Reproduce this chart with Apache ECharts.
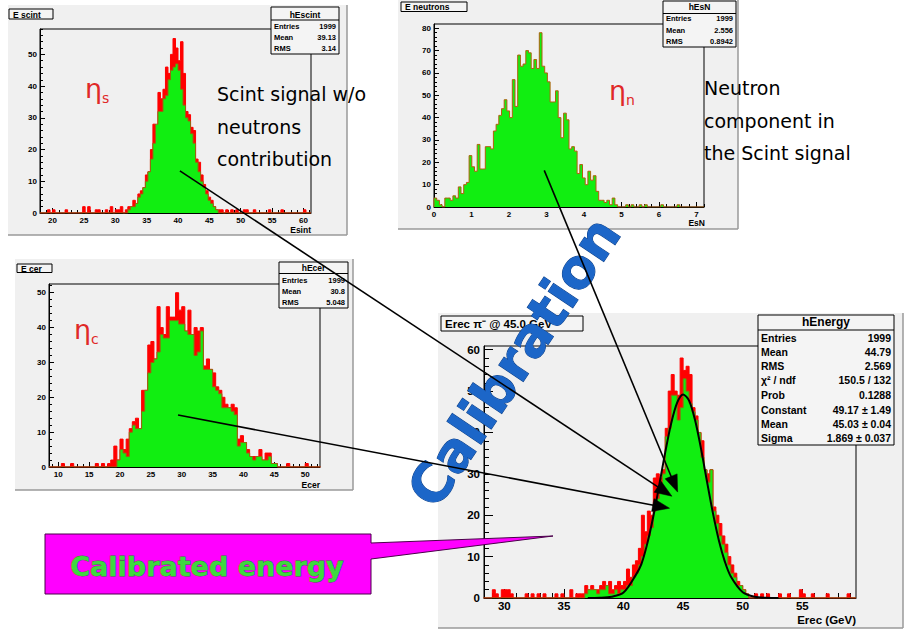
<!DOCTYPE html>
<html><head><meta charset="utf-8">
<script src="https://cdn.jsdelivr.net/npm/echarts@6/dist/echarts.min.js"></script>
<style>html,body{margin:0;padding:0;background:#fff;}#c{width:905px;height:633px;}</style>
</head><body><div id="c"></div>
<script>
// ---------------- data ----------------
const scintStart = 18, scintBinWidth = 0.4;
const scintRed = [0,0,0,1,0,1,0,0,0,0, 1,0,0,0,0,0,0,2,0,2, 0,0,1,1,0,0,1,0,2,0, 1,1,2,0,1,
  2,2,4,3,6,7,8,12,13,20, 28,27,38,36,39,46,44,50,55,52, 48,54,44,32,31,27,26,17,16,12, 9,7,5,4,2,1,
  1,1,0,1,0,1,0,1,0,0, 1,1,0,0,1,0,0,0,0,0, 1,0,0,0,0,1,0,0,0,0, 0,0,0,0,1,0,0];
const scintGreen = [0,0,0,0,0,0,0,0,0,0, 0,0,0,0,0,0,0,0,0,0, 0,0,0,0,0,0,0,0,0,0, 0,0,0,0,0,
  1,2,2,3,5,6,8,10,13,17, 22,28,32,32,36,37,42,45,46,47, 45,39,34,30,29,25,22,16,13,10, 8,6,4,3,2,1,
  0,0,0,0,0,0,0,0,0,0, 0,0,0,0,0,0,0,0,0,0, 0,0,0,0,0,0,0,0,0,0, 0,0,0,0,0,0,0];

const neutronStart = 0, neutronBinWidth = 0.072;
const neutronCounts = [4,3,1,0,4,4,3,5,4,9, 6,10,11,23,18,16,28,17,17,27, 27,26,34,37,41,44,48,43,40,57,
  45,68,63,64,70,69,62,66,62,78, 63,60,56,47,47,52,40,31,42,39, 26,27,25,15,19,13,10,16,12,14,
  7,3,3,2,3,1,4,1,0,0, 0,1,0,1,0,0,1,0,1,0, 0,0,0,0,1,0,0,0,0,0, 1,0,0,0,0,0,0,0,0,0];

const cerStart = 8.5, cerBinWidth = 0.5;
const cerRed = [0,0,0,0,1,0,0,1,0,0, 0,0,0,0,0,1,0,1,0,1, 2,6,
  2,8,5,8,11,13,14,11,22,22, 35,36,31,46,40,38,46,43,43,50, 45,46,39,45,38,40,39,40,29,31,
  28,27,23,22,20,18,17,18,17,8, 9,7,5,3,3,3,5,2,4,4, 1,1,
  0,0,0,1,0,0,0,0,0,1,0,0,0,0];
const cerGreen = [0,0,0,0,0,0,0,0,0,0, 0,0,0,0,0,0,0,0,0,0, 0,0,
  2,5,4,3,10,12,11,11,16,22, 27,30,31,33,38,37,37,42,42,42, 41,41,39,38,38,32,33,39,28,28,
  28,23,22,21,17,17,17,16,15,6, 7,7,4,3,2,3,3,2,2,3, 1,1,
  0,0,0,0,0,0,0,0,0,0,0,0,0,0];

const energyStart = 28.25, energyBinWidth = 0.25;
const energyRed = [0,0,0,2,1,0,2,2,2,1, 0,0,0,0,1,0,1,0,1,0, 1,0,0,0,1,0,1,0,0,2, 0,1,1,1,
  3,2,3,2,2,3,4,3,4,2, 3,4,3,4,7,5,8,9,12,20, 16,21,20,29,30,29,31,41,50,54,
  50,49,58,55,56,54,46,44,40,38, 31,30,31,22,20,18,15,13,10,8, 6,4,3,2,1,
  0,0,1,0,1,0,1,0,0,0,1, 0,0,1,0,0,0,2,1,0,0, 1,0,0,0,0,1,0,0,0,0, 0,0,1,0,0];
const energyGreen = [0,0,0,0,0,0,0,0,0,0, 0,0,0,0,0,0,0,0,0,0, 0,0,0,0,0,0,0,0,0,0, 0,0,0,0,
  1,2,2,2,1,2,2,3,1,1, 2,1,2,2,3,3,5,6,8,10, 13,15,17,21,24,27,30,39,41,49,
  49,43,46,53,50,47,45,43,40,34, 31,28,31,21,18,15,13,11,8,6, 5,3,3,2,1,
  0,0,0,0,0,0,0,0,0,0,0, 0,0,0,0,0,0,0,0,0,0, 0,0,0,0,0,0,0,0,0,0, 0,0,0,0,0];
const fitX = [37,38,39,40,41,41.5,42,42.5,43,43.5,44,44.5,45,45.5,46,46.5,47,47.5,48,48.5,49,50,51,52,53];
const fitY = [0,0.05,0.3,1.3,5.4,8.2,13.2,19.7,27.3,35.2,42.2,47.2,49.2,47.7,43,36.1,28.2,20.5,13.9,8.8,5.2,1.4,0.3,0.05,0];

const scintXTicks = [20,25,30,35,40,45,50,55,60], scintYTicks = [0,10,20,30,40,50];
const neutronXTicks = [0,1,2,3,4,5,6,7], neutronYTicks = [0,10,20,30,40,50,60,70,80];
const cerXTicks = [10,15,20,25,30,35,40,45,50], cerYTicks = [0,10,20,30,40,50];
const energyXTicks = [30,35,40,45,50,55], energyYTicks = [0,10,20,30,40,50,60];

const scintStats = [['Entries','1999'],['Mean','39.13'],['RMS','3.14']];
const neutronStats = [['Entries','1999'],['Mean','2.556'],['RMS','0.8942']];
const cerStats = [['Entries','1999'],['Mean','30.8'],['RMS','5.048']];
const energyStats = [['Entries','1999'],['Mean','44.79'],['RMS','2.569'],['\u03c7\u00b2 / ndf','150.5 / 132'],
  ['Prob','0.1288'],['Constant','49.17 \u00b1 1.49'],['Mean','45.03 \u00b1 0.04'],['Sigma','1.869 \u00b1 0.037']];

// ---------------- helpers ----------------
function stepData(start, w, counts){
  const d = [[start, 0]];
  counts.forEach((c, i) => d.push([+(start + i * w).toFixed(4), c]));
  const end = +(start + counts.length * w).toFixed(4);
  d.push([end, counts[counts.length - 1]]);
  d.push([end, 0]);
  return d;
}
function minorList(min, max, step, majors){
  const out = [];
  const k0 = Math.ceil(min / step - 1e-9), k1 = Math.floor(max / step + 1e-9);
  for (let k = k0; k <= k1; k++){
    const v = +(k * step).toFixed(4);
    if (!majors.some(m => Math.abs(m - v) < 1e-6)) out.push(v);
  }
  return out;
}
const FF = 'Liberation Sans';
const grid = [
  {left:40, top:29, width:271, height:184},
  {left:434, top:24, width:270, height:183},
  {left:49, top:284, width:271, height:183},
  {left:484, top:346, width:372, height:252}
].map(g => Object.assign(g, {show:true, borderColor:'#000', borderWidth:1, backgroundColor:'transparent', containLabel:false, outerBoundsMode:'none'}));

const xAxis = [], yAxis = [];
function axesFor(gi, c){
  const lbl = {fontFamily:FF, fontWeight:'bold', fontSize:c.fs, color:'#000'};
  xAxis.push({type:'value', gridIndex:gi, position:'bottom', min:c.xr[0], max:c.xr[1],
    axisLine:{show:true, onZero:false, lineStyle:{color:'#000', width:1}},
    axisTick:{show:true, inside:true, length:c.tl, customValues:c.xt, lineStyle:{color:'#000'}},
    axisLabel:Object.assign({show:true, customValues:c.xt, margin:c.xm}, lbl), splitLine:{show:false}});
  xAxis.push({type:'value', gridIndex:gi, position:'bottom', min:c.xr[0], max:c.xr[1],
    axisLine:{show:false, onZero:false}, axisTick:{show:true, inside:true, length:c.ml, customValues:minorList(c.xr[0], c.xr[1], c.xs, c.xt), lineStyle:{color:'#000'}},
    axisLabel:{show:false}, splitLine:{show:false}});
  yAxis.push({type:'value', gridIndex:gi, position:'left', min:c.yr[0], max:c.yr[1],
    axisLine:{show:true, onZero:false, lineStyle:{color:'#000', width:1}},
    axisTick:{show:true, inside:true, length:c.tl, customValues:c.yt, lineStyle:{color:'#000'}},
    axisLabel:Object.assign({show:true, customValues:c.yt, margin:c.ym}, lbl), splitLine:{show:false}});
  yAxis.push({type:'value', gridIndex:gi, position:'left', min:c.yr[0], max:c.yr[1],
    axisLine:{show:false, onZero:false}, axisTick:{show:true, inside:true, length:c.ml, customValues:minorList(c.yr[0], c.yr[1], c.ys, c.yt), lineStyle:{color:'#000'}},
    axisLabel:{show:false}, splitLine:{show:false}});
}
axesFor(0, {xr:[18,61.2], yr:[0,58], xt:scintXTicks, yt:scintYTicks, xs:1, ys:2, fs:8, tl:5, ml:3, xm:3, ym:3});
axesFor(1, {xr:[0,7.2], yr:[0,81.9], xt:neutronXTicks, yt:neutronYTicks, xs:0.2, ys:2, fs:8, tl:5, ml:3, xm:3, ym:3});
axesFor(2, {xr:[8.5,52.4], yr:[0,52.5], xt:cerXTicks, yt:cerYTicks, xs:1, ys:2, fs:8, tl:5, ml:3, xm:3, ym:3});
axesFor(3, {xr:[28.3,59.5], yr:[0,60.9], xt:energyXTicks, yt:energyYTicks, xs:1, ys:2, fs:11.5, tl:9, ml:5, xm:2, ym:4});

const GREEN = '#11ee11', EDGE = '#9a6410', RED = '#ff0000';
function histo(gi, data, fill, edge, z){
  return {type:'line', xAxisIndex:gi*2, yAxisIndex:gi*2, step:'end', symbol:'none', data:data,
    lineStyle:{color:edge, width:1}, areaStyle:{color:fill, opacity:1}, z:z, silent:true, animation:false};
}
const series = [
  histo(0, stepData(scintStart, scintBinWidth, scintRed), RED, RED, 2),
  histo(0, stepData(scintStart, scintBinWidth, scintGreen), GREEN, EDGE, 3),
  histo(1, stepData(neutronStart, neutronBinWidth, neutronCounts), GREEN, '#b0600c', 3),
  histo(2, stepData(cerStart, cerBinWidth, cerRed), RED, RED, 2),
  histo(2, stepData(cerStart, cerBinWidth, cerGreen), GREEN, EDGE, 3),
  histo(3, stepData(energyStart, energyBinWidth, energyRed), RED, RED, 2),
  histo(3, stepData(energyStart, energyBinWidth, energyGreen), GREEN, EDGE, 3),
  {type:'line', xAxisIndex:6, yAxisIndex:6, data:fitX.map((x,i)=>[x, fitY[i]]), smooth:0.3, symbol:'none',
   lineStyle:{color:'#000', width:2}, z:4, silent:true, animation:false}
];

const chart = echarts.init(document.getElementById('c'), null, {renderer:'svg', width:905, height:633});
chart.setOption({animation:false, backgroundColor:'#fff', grid, xAxis, yAxis, series});

// ---------------- annotations ----------------
const els = [];
function T(text, x, y, o){
  o = o || {};
  const st = {text, fill:o.fill || '#000', fontSize:o.fs || 8, fontFamily:o.ff || FF, fontWeight:o.fw || 'bold',
    align:o.align || 'left', textAlign:o.align || 'left', verticalAlign:o.va || 'middle', textVerticalAlign:o.va || 'middle'};
  if (o.stroke){ st.stroke = o.stroke; st.lineWidth = o.lw || 1; }
  return {type:'text', x, y, rotation:o.rot || 0, z:o.z || 10, silent:true, style:st};
}
function R(x, y, w, h, fill, stroke, lw, z){
  return {type:'rect', shape:{x, y, width:w, height:h}, style:{fill, stroke, lineWidth:lw}, z, silent:true};
}
function L(x1, y1, x2, y2, color, w, z){
  return {type:'line', shape:{x1, y1, x2, y2}, style:{stroke:color, lineWidth:w}, z, silent:true};
}
// pads
[[8,5,339,230],[398,0,340,229],[15,259,338,231],[438,313,465,315]].forEach(p => {
  els.push(R(p[0], p[1], p[2], p[3], '#f0f0f0', null, 0, -10));
  els.push(L(p[0], p[1] + p[3], p[0] + p[2], p[1] + p[3], '#9a9a9a', 1.5, -9));
  els.push(L(p[0] + p[2], p[1], p[0] + p[2], p[1] + p[3], '#9a9a9a', 1.5, -9));
});
// title boxes
function titleBox(x, y, w, h, text, fs){
  els.push(R(x, y, w, h, '#f4f4f4', '#000', 1, 10));
  els.push(T(text, x + 4, y + h / 2 + 0.5, {fs, z:11}));
}
titleBox(9, 9, 44, 10, 'E scint', 8.5);
titleBox(401, 2, 66, 9.5, 'E neutrons', 8.5);
titleBox(17, 264, 35, 8.5, 'E cer', 8.5);
titleBox(441, 316, 142, 15, 'Erec \u03c0\u207b @ 45.0 GeV', 11.5);
// stats boxes
function statsBox(x, y, w, h, lineY, titleY, title, rows, rowYs, fs, tfs){
  els.push(R(x, y, w, h, '#f4f4f4', '#000', 1, 10));
  els.push(L(x, lineY, x + w, lineY, '#000', 1, 11));
  els.push(T(title, x + w / 2, titleY, {fs:tfs, align:'center', z:11}));
  rows.forEach((r, i) => {
    els.push(T(r[0], x + 3, rowYs[i], {fs, z:11}));
    els.push(T(r[1], x + w - 3, rowYs[i], {fs, align:'right', z:11}));
  });
}
statsBox(271, 7, 68, 47, 20, 14.5, 'hEscint', scintStats, [26, 37.5, 48.5], 7.5, 8.5);
statsBox(663, 1, 73, 46, 13.5, 7, 'hEsN', neutronStats, [18.5, 30.5, 41.5], 7.5, 8.5);
statsBox(279, 262, 69, 46, 273.5, 268, 'hEcer', cerStats, [280, 291.5, 302.5], 7.5, 8.5);
statsBox(758, 315, 136, 130, 330, 322, 'hEnergy', energyStats, [337.5,351.7,366,380.3,395,409.5,423.7,437.7], 10.5, 12);
// axis titles
els.push(T('Esint', 311, 229.5, {fs:8.5, align:'right'}));
els.push(T('EsN', 705, 222.5, {fs:8.5, align:'right'}));
els.push(T('Ecer', 320, 484.5, {fs:8.5, align:'right'}));
els.push(T('Erec (GeV)', 856, 620, {fs:11.5, align:'right'}));
// eta labels
const ETA = '#e02828';
function eta(x, y, sub){
  els.push(T('\u03b7', x, y, {fs:27, fw:'normal', ff:'DejaVu Sans', fill:ETA, z:12}));
  els.push(T(sub, x + 17, y + 10, {fs:14, fw:'normal', ff:'DejaVu Sans', fill:ETA, z:12}));
}
eta(85, 88, 's');
eta(609, 90, 'n');
eta(74, 329, 'c');
// annotation texts
const AF = 'DejaVu Sans';
[['Scint signal w/o', 94], ['neutrons', 127], ['contribution', 159]].forEach(t =>
  els.push(T(t[0], 217, t[1], {fs:19, fw:'normal', ff:AF, z:12})));
[['Neutron', 88], ['component in', 121], ['the Scint signal', 153]].forEach(t =>
  els.push(T(t[0], 704, t[1], {fs:19, fw:'normal', ff:AF, z:12})));
// big rotated Calibration
els.push(T('Calibration', 514, 362, {fs:54, fw:'bold', ff:AF, fill:'#1c66c8', stroke:'#0c3f88', lw:1, align:'center', rot:0.98, z:20}));
// callout
els.push({type:'polygon', z:25, silent:true,
  shape:{points:[[45,534],[371,534],[371,543],[553,536],[371,559],[371,594],[45,594]]},
  style:{fill:'#ff00ff', stroke:'#4a004a', lineWidth:1}});
els.push(T('Calibrated energy', 207, 566, {fs:27, fw:'bold', ff:AF, fill:'#3fd83f', stroke:'#1f8a1f', lw:0.8, align:'center', z:26}));
// arrows anchored in data coordinates of the panels
function px(gi, pt){ return chart.convertToPixel({xAxisIndex:gi * 2, yAxisIndex:gi * 2}, pt); }
const arrowDefs = [
  [0, [40.3, 13.3], 3, [44.06, 24.6]],
  [1, [2.94, 16.4], 3, [44.54, 25.6]],
  [2, [29.4, 14.9], 3, [43.86, 21.7]]
];
arrowDefs.forEach(a => {
  const p0 = px(a[0], a[1]), p1 = px(a[2], a[3]);
  const dx = p1[0] - p0[0], dy = p1[1] - p0[1], len = Math.hypot(dx, dy);
  const ux = dx / len, uy = dy / len, hl = 17, hw = 6.5;
  const bx = p1[0] - ux * hl, by = p1[1] - uy * hl;
  els.push(L(p0[0], p0[1], bx + ux * 2, by + uy * 2, '#000', 1.6, 30));
  els.push({type:'polygon', z:31, silent:true,
    shape:{points:[[p1[0], p1[1]], [bx - uy * hw, by + ux * hw], [bx + uy * hw, by - ux * hw]]},
    style:{fill:'#000', stroke:'#000', lineWidth:0.5}});
});
chart.setOption({graphic:{elements:els}});
</script></body></html>
